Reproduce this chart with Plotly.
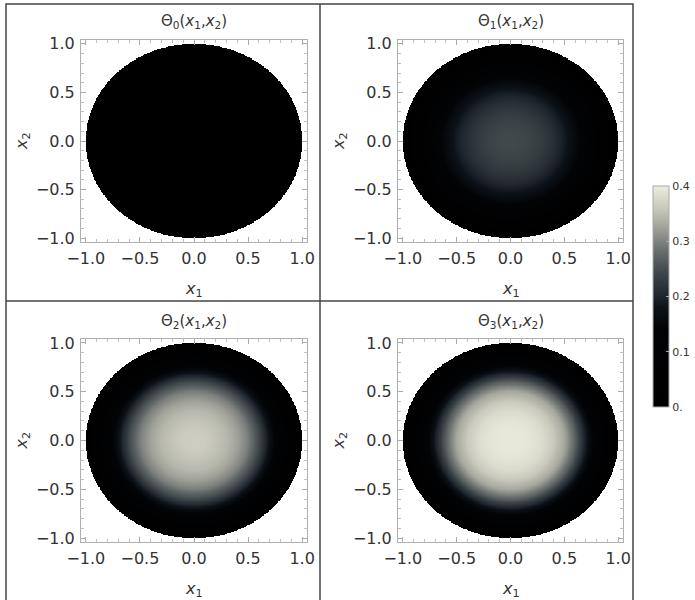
import numpy as np
import plotly.graph_objects as go

# Radial profiles (value vs distance from the centre)
radius = [0.0, 0.1, 0.2, 0.3, 0.4, 0.5, 0.6, 0.7, 0.8, 0.9, 1.0]
theta0 = [0.01, 0.01, 0.01, 0.01, 0.01, 0.01, 0.01, 0.01, 0.005, 0.002, 0.0]
theta1 = [0.245, 0.243, 0.238, 0.228, 0.212, 0.19, 0.16, 0.12, 0.07, 0.03, 0.0]
theta2 = [0.365, 0.363, 0.355, 0.345, 0.325, 0.295, 0.245, 0.175, 0.10, 0.045, 0.0]
theta3 = [0.395, 0.394, 0.39, 0.38, 0.36, 0.33, 0.27, 0.19, 0.11, 0.05, 0.0]
profiles = [theta0, theta1, theta2, theta3]
titles = ["Θ<sub>0</sub>(<i>x</i><sub>1</sub>,<i>x</i><sub>2</sub>)",
          "Θ<sub>1</sub>(<i>x</i><sub>1</sub>,<i>x</i><sub>2</sub>)",
          "Θ<sub>2</sub>(<i>x</i><sub>1</sub>,<i>x</i><sub>2</sub>)",
          "Θ<sub>3</sub>(<i>x</i><sub>1</sub>,<i>x</i><sub>2</sub>)"]
tick_vals = [-1.0, -0.5, 0.0, 0.5, 1.0]
tick_text = ["\u22121.0", "\u22120.5", "0.0", "0.5", "1.0"]
cbar_vals = [0.0, 0.1, 0.2, 0.3, 0.4]
cbar_text = ["0.", "0.1", "0.2", "0.3", "0.4"]

W, H = 695, 600
FONT = "DejaVu Sans"
TXT = "#333333"

colorscale = [
    [0.0, "#000000"],
    [0.35, "#020305"],
    [0.45, "#0c1218"],
    [0.5, "#1e252c"],
    [0.6, "#3c4448"],
    [0.7, "#666b6b"],
    [0.8, "#9b9d95"],
    [0.9, "#c9c9bd"],
    [1.0, "#ececdf"],
]

g = np.linspace(-1, 1, 341)
X, Y = np.meshgrid(g, g)
R = np.sqrt(X**2 + Y**2)

# panel frame areas in pixels: (left, right, top, bottom)
panels = [(81, 307, 40, 242), (398, 623, 40, 242),
          (81, 307, 339, 542), (398, 623, 339, 542)]

fig = go.Figure()
annotations = []
for i, (prof, (l, r, t, b)) in enumerate(zip(profiles, panels)):
    Z = np.interp(R, radius, prof)
    Z = np.where(R <= 1.0, Z, np.nan)
    n = "" if i == 0 else str(i + 1)
    fig.add_trace(go.Heatmap(
        x=g, y=g, z=Z, xaxis="x" + n, yaxis="y" + n,
        colorscale=colorscale, zmin=0, zmax=0.4,
        showscale=(i == 0),
        colorbar=dict(
            x=653 / W, xanchor="left", y=1 - 296.5 / H, yanchor="middle",
            len=221 / H, lenmode="fraction", thickness=16,
            xpad=0, ypad=0,
            outlinecolor="#aaaaaa", outlinewidth=1,
            tickvals=cbar_vals, ticktext=cbar_text,
            ticks="inside", ticklen=3, tickcolor="#aaaaaa",
            tickfont=dict(family=FONT, size=11, color=TXT),
        ),
        hoverinfo="skip",
    ))
    axcommon = dict(
        showgrid=False, zeroline=False, automargin=False,
        showline=True, linecolor="#b0b0b0", linewidth=1, mirror="allticks",
        ticks="inside", ticklen=5, tickcolor="#aaaaaa",
        tickvals=tick_vals, ticktext=tick_text,
        tickfont=dict(family=FONT, size=16, color=TXT),
        minor=dict(dtick=0.1, ticks="inside", ticklen=3, tickcolor="#c0c0c0"),
    )
    fig.update_layout(**{
        "xaxis" + n: dict(axcommon, range=[-1.045, 1.045], domain=[l / W, r / W],
                          anchor="y" + n, ticklabelstandoff=2),
        "yaxis" + n: dict(axcommon, range=[-1.04, 1.04], domain=[1 - b / H, 1 - t / H],
                          anchor="x" + n, ticklabelstandoff=2),
    })
    cx = (l + r) / 2
    annotations.append(dict(x=cx / W, y=1 - (t - 18) / H, xref="paper", yref="paper",
                            text=titles[i], showarrow=False,
                            xanchor="center", yanchor="middle",
                            font=dict(family=FONT, size=15, color=TXT)))
    annotations.append(dict(x=cx / W, y=1 - (b + 47) / H, xref="paper", yref="paper",
                            text="<i>x</i><sub>1</sub>", showarrow=False,
                            xanchor="center", yanchor="middle",
                            font=dict(family=FONT, size=16, color=TXT)))
    annotations.append(dict(x=(l - 59) / W, y=1 - ((t + b) / 2) / H, xref="paper", yref="paper",
                            text="<i>x</i><sub>2</sub>", showarrow=False, textangle=-90,
                            xanchor="center", yanchor="middle",
                            font=dict(family=FONT, size=16, color=TXT)))

shapes = [
    dict(type="rect", xref="paper", yref="paper", x0=6 / W, x1=633 / W, y0=-0.01, y1=1 - 4 / H,
         line=dict(color="#444444", width=1.5)),
    dict(type="line", xref="paper", yref="paper", x0=320 / W, x1=320 / W, y0=-0.01, y1=1 - 4 / H,
         line=dict(color="#444444", width=1.5)),
    dict(type="line", xref="paper", yref="paper", x0=6 / W, x1=633 / W, y0=1 - 301 / H, y1=1 - 301 / H,
         line=dict(color="#444444", width=1.5)),
]

fig.update_layout(
    template="none",
    width=W, height=H, margin=dict(l=0, r=0, t=0, b=0, pad=0), autosize=False,
    paper_bgcolor="white", plot_bgcolor="white",
    annotations=annotations, shapes=shapes, showlegend=False,
)
fig.write_html("out.html", config={"displayModeBar": False},
               post_script="document.body.style.margin='0';")
